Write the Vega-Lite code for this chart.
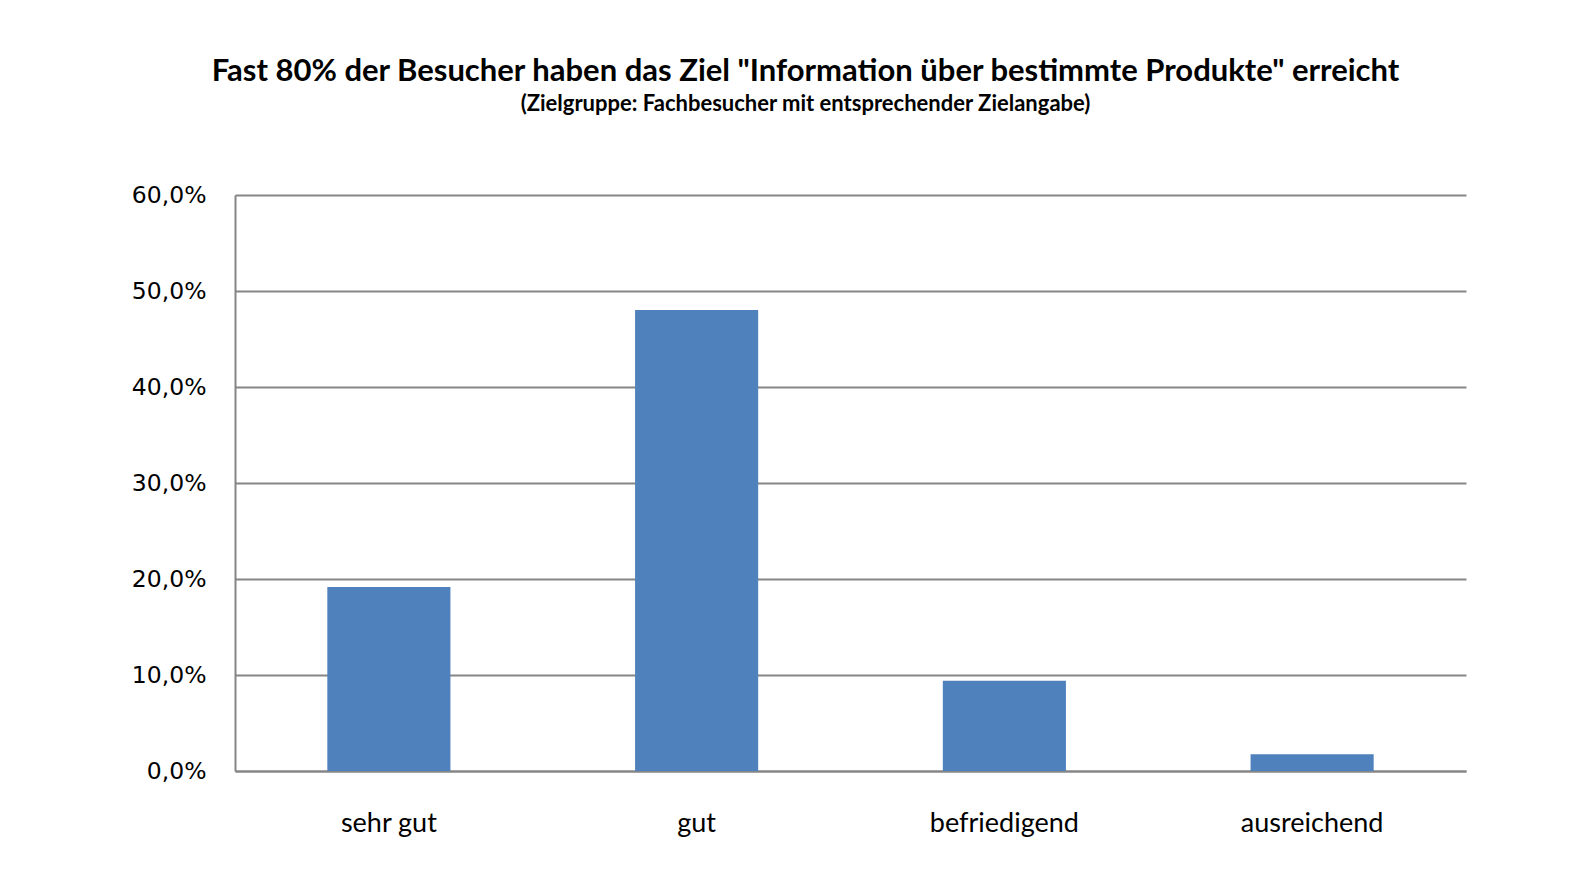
{
  "$schema": "https://vega.github.io/schema/vega-lite/v6.json",
  "width": 1231,
  "height": 576,
  "autosize": {"type": "none"},
  "padding": {"left": 235, "top": 195, "right": 121, "bottom": 112},
  "background": "white",
  "config": {
    "locale": {"number": {"decimal": ",", "thousands": ".", "grouping": [3], "currency": ["", " €"]}},
    "view": {"stroke": null}
  },
  "title": {
    "text": "Fast 80% der Besucher haben das Ziel \"Information über bestimmte Produkte\" erreicht",
    "subtitle": "(Zielgruppe: Fachbesucher mit entsprechender Zielangabe)",
    "font": "Lato",
    "fontSize": 31,
    "fontWeight": "bold",
    "color": "#000000",
    "subtitleFont": "Lato",
    "subtitleFontSize": 22,
    "subtitleFontWeight": "bold",
    "subtitleColor": "#000000",
    "subtitlePadding": 6,
    "anchor": "middle",
    "frame": "group",
    "dx": -45,
    "offset": 67
  },
  "data": {
    "values": [
      {"rating": "sehr gut", "share": 0.1917},
      {"rating": "gut", "share": 0.4802},
      {"rating": "befriedigend", "share": 0.0940},
      {"rating": "ausreichend", "share": 0.0174}
    ]
  },
  "mark": {"type": "bar", "color": "#4F81BD"},
  "encoding": {
    "x": {
      "field": "rating",
      "type": "nominal",
      "sort": null,
      "title": null,
      "scale": {"paddingInner": 0.6, "paddingOuter": 0.3},
      "axis": {
        "labelAngle": 0,
        "labelFont": "Lato",
        "labelFontSize": 27,
        "labelColor": "#000000",
        "labelPadding": 39,
        "ticks": false,
        "domainColor": "#868686",
        "domainWidth": 2
      }
    },
    "y": {
      "field": "share",
      "type": "quantitative",
      "title": null,
      "scale": {"domain": [0, 0.6], "nice": false},
      "axis": {
        "values": [0, 0.1, 0.2, 0.3, 0.4, 0.5, 0.6],
        "format": ".1%",
        "labelFont": "DejaVu Sans",
        "labelFontSize": 23.5,
        "labelColor": "#000000",
        "labelPadding": 29,
        "ticks": false,
        "tickSize": 0,
        "gridColor": "#868686",
        "gridWidth": 2,
        "gridOpacity": 1,
        "domainColor": "#868686",
        "domainWidth": 2
      }
    }
  }
}
